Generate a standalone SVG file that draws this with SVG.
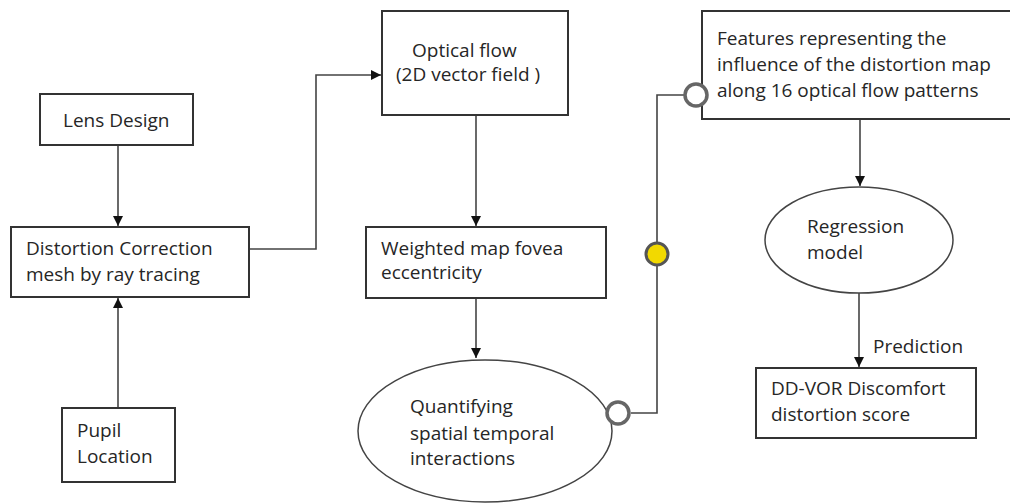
<svg xmlns="http://www.w3.org/2000/svg" width="1010" height="504" viewBox="0 0 1010 504">
  <style>
    .box { fill: #ffffff; stroke: #333333; stroke-width: 2; }
    .oval { fill: #ffffff; stroke: #444444; stroke-width: 1.5; }
    .lbl { font-family: "Open Sans", "Liberation Sans", sans-serif; font-size: 19px; fill: #262626; }
    .wire { fill: none; stroke: #444444; stroke-width: 1.6; }
    .port { fill: #ffffff; stroke: #666666; stroke-width: 3.5; }
    .port-on { fill: #f2d900; stroke: #555555; stroke-width: 3; }
  </style>
  <defs>
    <marker id="arrow" viewBox="0 0 10 10" refX="10" refY="5" markerWidth="10" markerHeight="10" markerUnits="userSpaceOnUse" orient="auto">
      <path d="M0,0 L10,5 L0,10 z" fill="#111111"/>
    </marker>
  </defs>
  <rect width="1010" height="504" fill="#ffffff"/>

  <!-- connectors -->
  <g id="connectors">
    <path class="wire" d="M118,145 V226" marker-end="url(#arrow)"/>
    <path class="wire" d="M118,408 V298" marker-end="url(#arrow)"/>
    <path class="wire" d="M249,249 H316 V75 H381" marker-end="url(#arrow)"/>
    <path class="wire" d="M476,115 V226" marker-end="url(#arrow)"/>
    <path class="wire" d="M476,298 V358" marker-end="url(#arrow)"/>
    <path class="wire" d="M631,413 H657 V95 H684"/>
    <path class="wire" d="M860,119 V186" marker-end="url(#arrow)"/>
    <path class="wire" d="M859,292 V367" marker-end="url(#arrow)"/>
    <text class="lbl" x="873" y="353">Prediction</text>
  </g>

  <g id="lens-design">
    <rect class="box" x="40" y="94" width="153" height="51"/>
    <text class="lbl" x="63" y="127">Lens Design</text>
  </g>

  <g id="distortion-correction">
    <rect class="box" x="11" y="227" width="238" height="70"/>
    <text class="lbl" x="26" y="255">Distortion Correction</text>
    <text class="lbl" x="26" y="281">mesh by ray tracing</text>
  </g>

  <g id="pupil-location">
    <rect class="box" x="62" y="408" width="113" height="74"/>
    <text class="lbl" x="77" y="437">Pupil</text>
    <text class="lbl" x="77" y="463">Location</text>
  </g>

  <g id="optical-flow">
    <rect class="box" x="382" y="11" width="186" height="104"/>
    <text class="lbl" x="412" y="57">Optical flow</text>
    <text class="lbl" x="396" y="81">(2D vector field )</text>
  </g>

  <g id="weighted-map">
    <rect class="box" x="366" y="227" width="240" height="71"/>
    <text class="lbl" x="381" y="255">Weighted map fovea</text>
    <text class="lbl" x="381" y="279">eccentricity</text>
  </g>

  <g id="quantifying">
    <ellipse class="oval" cx="485" cy="431" rx="127" ry="71"/>
    <text class="lbl" x="410" y="413">Quantifying</text>
    <text class="lbl" x="410" y="440">spatial temporal</text>
    <text class="lbl" x="410" y="465">interactions</text>
    <circle class="port" cx="618" cy="413" r="11"/>
  </g>

  <g id="link-point">
    <circle class="port-on" cx="657" cy="254" r="11"/>
  </g>

  <g id="features">
    <rect class="box" x="702" y="11" width="312" height="108"/>
    <text class="lbl" x="717" y="45">Features representing the</text>
    <text class="lbl" x="717" y="71">influence of the distortion map</text>
    <text class="lbl" x="717" y="97">along 16 optical flow patterns</text>
    <circle class="port" cx="696" cy="95" r="11"/>
  </g>

  <g id="regression-model">
    <ellipse class="oval" cx="859" cy="240" rx="94" ry="53"/>
    <text class="lbl" x="807" y="233">Regression</text>
    <text class="lbl" x="807" y="259">model</text>
  </g>

  <g id="dd-vor-score">
    <rect class="box" x="756" y="368" width="220" height="70"/>
    <text class="lbl" x="771" y="395">DD-VOR Discomfort</text>
    <text class="lbl" x="771" y="421">distortion score</text>
  </g>
</svg>
